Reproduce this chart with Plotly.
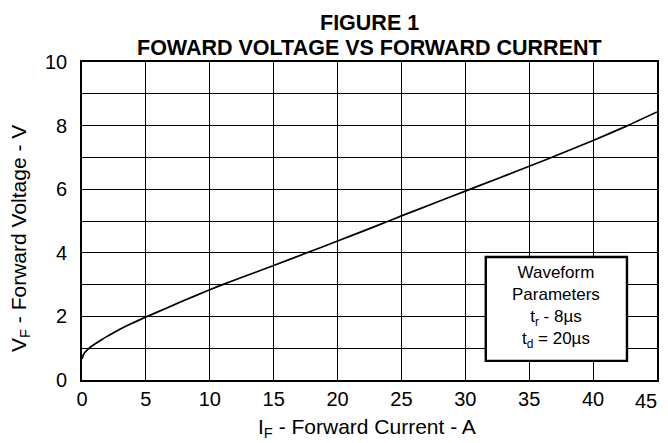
import plotly.graph_objects as go

# Data
current_a = [0, 0.1, 0.25, 0.5, 0.75, 1.0, 1.5, 2.0, 2.5, 3.0, 3.75, 5, 6.5, 7.7, 10, 11, 13, 15, 17.6, 20, 22.5, 24, 25, 27.5, 30, 32.5, 35, 37.5, 40, 42.7, 45]
voltage_v = [0.66, 0.78, 0.88, 0.98, 1.06, 1.13, 1.26, 1.38, 1.49, 1.6, 1.75, 1.98, 2.24, 2.45, 2.84, 3.0, 3.3, 3.6, 4.0, 4.37, 4.76, 5.0, 5.16, 5.55, 5.94, 6.33, 6.72, 7.12, 7.53, 8.0, 8.43]

x_ticks = [0, 5, 10, 15, 20, 25, 30, 35, 40, 45]
y_ticks = [0, 2, 4, 6, 8, 10]

FONT = "Liberation Sans, Arial, Helvetica, sans-serif"

fig = go.Figure()
fig.add_trace(go.Scatter(
    x=current_a, y=voltage_v, mode="lines",
    line=dict(color="black", width=1.7, shape="spline", smoothing=0.5),
    hoverinfo="skip", showlegend=False,
))

# last x tick label is drawn as an annotation so it stays inside the page
x_ticktext = [str(v) for v in x_ticks[:-1]] + [""]

fig.update_layout(
    width=660, height=435,
    margin=dict(l=74, r=11, t=54, b=63),
    paper_bgcolor="white", plot_bgcolor="white",
    font=dict(family=FONT, size=20, color="black"),
    xaxis=dict(
        range=[0, 45], tickvals=x_ticks, ticktext=x_ticktext,
        showgrid=True, gridcolor="black", gridwidth=1.4,
        showline=True, linecolor="black", linewidth=1.6, mirror=True,
        zeroline=False, ticks="", ticklen=0, ticklabelstandoff=0,
        tickfont=dict(size=20), automargin=False,
    ),
    yaxis=dict(
        range=[0, 10], tickvals=y_ticks, ticktext=[str(v) for v in y_ticks],
        showgrid=True, gridcolor="black", gridwidth=1.4,
        minor=dict(dtick=1, showgrid=True, gridcolor="black", gridwidth=1.4),
        showline=True, linecolor="black", linewidth=1.6, mirror=True,
        zeroline=False, ticks="", ticklen=0, ticklabelstandoff=9,
        tickfont=dict(size=20), automargin=False,
    ),
)

fig.add_annotation(xref="x", yref="paper", x=x_ticks[-1], y=0, xanchor="right", yanchor="top",
                   xshift=2, yshift=-8, text=str(x_ticks[-1]), showarrow=False,
                   font=dict(family=FONT, size=20))

# Titles
fig.add_annotation(xref="paper", yref="paper", x=0.5, y=1.122, xanchor="center", yanchor="middle",
                   text="<b>FIGURE 1</b>", showarrow=False, font=dict(family=FONT, size=21.5))
fig.add_annotation(xref="paper", yref="paper", x=0.5, y=1.044, xanchor="center", yanchor="middle",
                   text="<b>FOWARD VOLTAGE VS FORWARD CURRENT</b>", showarrow=False,
                   font=dict(family=FONT, size=21.5))
fig.add_annotation(xref="paper", yref="paper", x=0.4948, y=-0.15, xanchor="center", yanchor="middle",
                   text="I<sub>F</sub> - Forward Current - A", showarrow=False, font=dict(family=FONT, size=21))
fig.add_annotation(xref="paper", yref="paper", x=-0.107, y=0.445, xanchor="center", yanchor="middle",
                   text="V<sub>F</sub> - Forward Voltage - V", showarrow=False, textangle=-90,
                   font=dict(family=FONT, size=21))

# Waveform parameters box
fig.add_shape(type="rect", xref="x", yref="y", x0=31.6, x1=42.65, y0=0.6, y1=3.87,
              line=dict(color="black", width=2.4), fillcolor="white", layer="above")
fig.add_annotation(
    xref="x", yref="y", x=37.1, y=2.3, xanchor="center", yanchor="middle",
    text="Waveform<br>Parameters<br>t<sub>r</sub> - 8µs<br>t<sub>d</sub> = 20µs",
    showarrow=False, align="center", font=dict(family=FONT, size=17, color="black"),
)

fig.write_html("out.html")
